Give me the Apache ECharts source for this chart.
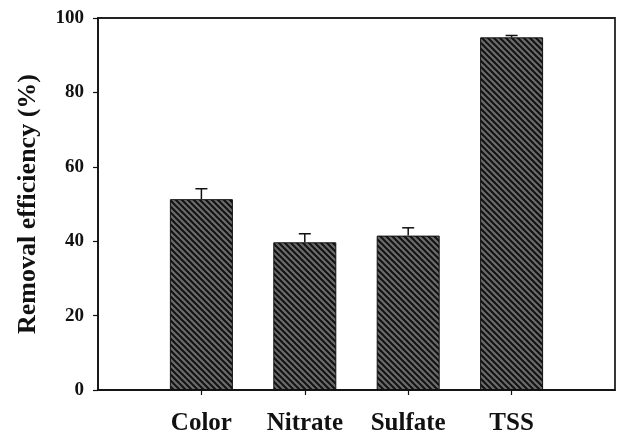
<!DOCTYPE html>
<html>
<head>
<meta charset="utf-8">
<script src="https://cdn.jsdelivr.net/npm/echarts@6/dist/echarts.min.js"></script>
<style>
html,body{margin:0;padding:0;background:#fff;}
#chart{width:618px;height:436px;}
</style>
</head>
<body>
<div id="chart"></div>
<script>
const categories = ['Color', 'Nitrate', 'Sulfate', 'TSS'];
const removalValues = [51.3, 39.7, 41.5, 94.8];
const errorValues = [2.8, 2.3, 2.1, 0.5];
const yTicks = [0, 20, 40, 60, 80, 100];

// hatch pattern tile
function makeHatch() {
  const s = 6;
  const c = document.createElement('canvas');
  c.width = s; c.height = s;
  const g = c.getContext('2d');
  g.fillStyle = '#6b6b6b';
  g.fillRect(0, 0, s, s);
  g.strokeStyle = '#111';
  g.lineWidth = 2;
  g.beginPath();
  g.moveTo(-1, -1); g.lineTo(s + 1, s + 1);
  g.moveTo(-1, s - 1); g.lineTo(1, s + 1);
  g.moveTo(s - 1, -1); g.lineTo(s + 1, 1);
  g.stroke();
  return c;
}

const axisCats = [''].concat(categories).concat(['']);
const barData = ['-'].concat(removalValues).concat(['-']);
const errData = categories.map((c, i) => [i + 1, removalValues[i], removalValues[i] + errorValues[i]]);

const font = '"Liberation Serif", "Times New Roman", serif';
const chart = echarts.init(document.getElementById('chart'));
chart.setOption({
  animation: false,
  grid: { left: 98, right: 2, top: 18, bottom: 45, show: true, borderColor: '#222', borderWidth: 1.8 },
  xAxis: {
    type: 'category',
    data: axisCats,
    boundaryGap: false,
    axisLine: { lineStyle: { color: '#111', width: 1.5 } },
    axisTick: { length: 5, lineStyle: { color: '#111', width: 1.2 }, interval: (i, v) => v !== '' },
    axisLabel: { interval: 0, margin: 21, fontFamily: font, fontWeight: 'bold', fontSize: 25, color: '#111' },
    splitLine: { show: false }
  },
  yAxis: {
    type: 'value',
    min: yTicks[0],
    max: yTicks[yTicks.length - 1],
    interval: 20,
    name: 'Removal efficiency (%)',
    nameLocation: 'middle',
    nameGap: 57,
    nameTextStyle: { fontFamily: font, fontWeight: 'bold', fontSize: 26, color: '#111' },
    axisLine: { show: true, lineStyle: { color: '#111', width: 1.5 } },
    axisTick: { show: true, length: 5, lineStyle: { color: '#111', width: 1.2 } },
    axisLabel: { margin: 14, fontFamily: font, fontWeight: 'bold', fontSize: 19, color: '#111' },
    splitLine: { show: false }
  },
  series: [
    {
      type: 'bar',
      data: barData,
      barWidth: 63,
      itemStyle: {
        color: { image: makeHatch(), repeat: 'repeat' },
        borderColor: '#111',
        borderWidth: 1
      },
      z: 2
    },
    {
      type: 'custom',
      data: errData,
      z: 3,
      renderItem: function (params, api) {
        const x = api.value(0);
        const lo = api.coord([x, api.value(1)]);
        const hi = api.coord([x, api.value(2)]);
        const hw = 6;
        const st = { stroke: '#111', lineWidth: 1.5, fill: null };
        return {
          type: 'group',
          children: [
            { type: 'line', shape: { x1: lo[0], y1: lo[1], x2: hi[0], y2: hi[1] }, style: st },
            { type: 'line', shape: { x1: hi[0] - hw, y1: hi[1], x2: hi[0] + hw, y2: hi[1] }, style: st }
          ]
        };
      }
    }
  ]
});
</script>
</body>
</html>
